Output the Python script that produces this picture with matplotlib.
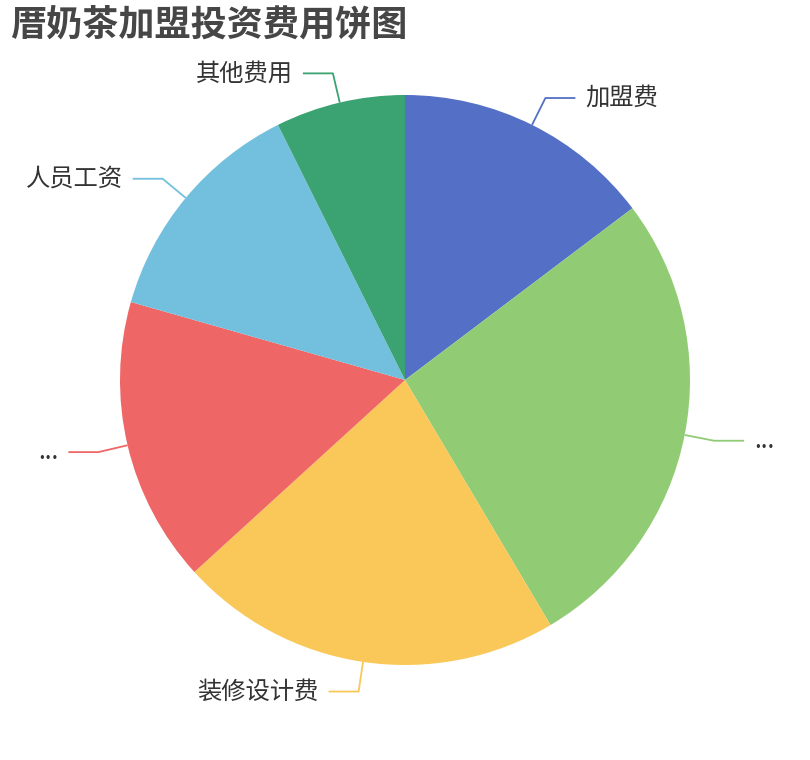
import numpy as np
import matplotlib
matplotlib.use("Agg")
import matplotlib.pyplot as plt

plt.rcParams['font.family'] = ['Noto Sans CJK SC', 'DejaVu Sans']

# slice data, clockwise from 12 o'clock
labels = ["加盟费", "...", "装修设计费", "...", "人员工资", "其他费用"]
values = [5, 9.1, 7.4, 5.5, 4.5, 2.5]
colors = ["#5470c6", "#91cc75", "#fac858", "#ee6666", "#73c0de", "#3ba272"]
title = "厝奶茶加盟投资费用饼图"

W, H = 810, 760
cx, cy, radius = 405, 380, 285
len1, len2, gap = 30, 30, 10

fig = plt.figure(figsize=(W / 100, H / 100), dpi=100)
ax = fig.add_axes([0, 0, 1, 1])
ax.set_xlim(0, W)
ax.set_ylim(0, H)
ax.set_aspect('equal')
ax.axis('off')

wedges, _ = ax.pie(values, colors=colors, startangle=90, counterclock=False,
                   center=(cx, cy), radius=radius,
                   wedgeprops=dict(linewidth=0))
ax.set_xlim(0, W)
ax.set_ylim(0, H)

# leader lines + labels
for w, lab, col in zip(wedges, labels, colors):
    mid = np.deg2rad((w.theta1 + w.theta2) / 2)
    dx, dy = np.cos(mid), np.sin(mid)
    x0, y0 = cx + radius * dx, cy + radius * dy
    x1, y1 = cx + (radius + len1) * dx, cy + (radius + len1) * dy
    side = 1 if dx >= 0 else -1
    x2 = x1 + side * len2
    ax.plot([x0, x1, x2], [y0, y1, y1], color=col, lw=1.3,
            solid_capstyle='butt')
    ax.text(x2 + side * gap, y1, lab, fontsize=17.5, color="#333333",
            ha='left' if side > 0 else 'right', va='center')

fig.text(10 / W, 1 - 25 / H, title, fontsize=26, fontweight='bold',
         color="#464646", ha='left', va='center')

fig.savefig("out.png", dpi=100)
